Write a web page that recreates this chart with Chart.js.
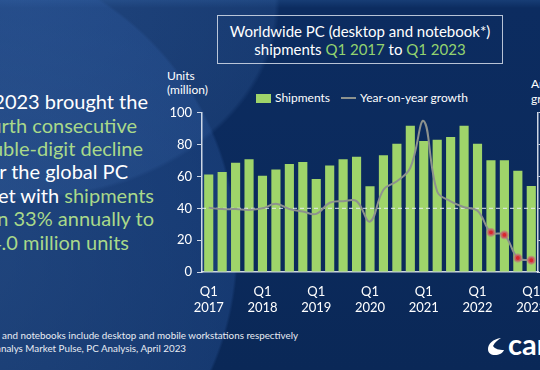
<!DOCTYPE html>
<html>
<head>
<meta charset="utf-8">
<script src="https://cdn.jsdelivr.net/npm/chart.js@4.4.0/dist/chart.umd.min.js"></script>
<style>
  html, body { margin: 0; padding: 0; }
  body {
    width: 540px; height: 370px; overflow: hidden; position: relative;
    font-family: Lato, "Open Sans", sans-serif; color: #fff;
    background: #0b2b5e;
  }
  #bg {
    position: absolute; left: 0; top: 0; width: 540px; height: 370px;
    background:
      radial-gradient(circle at -60px 250px, rgba(60,105,170,0.45) 0, rgba(45,90,160,0.35) 295px, rgba(0,0,0,0) 298px),
      radial-gradient(ellipse 260px 200px at 20px 0px, rgba(70,115,180,0.35) 0, rgba(60,105,170,0.25) 98%, rgba(0,0,0,0) 100%),
      linear-gradient(180deg, #173d75 0, #0c2c60 8px, #0b2a5c 60%, #0a2857 100%);
  }
  .abs { position: absolute; white-space: nowrap; }
  .g { color: #a9d98a; }
  #title {
    left: 217px; top: 15px;
    border: 1px solid rgba(215,222,235,0.85);
    text-align: center; font-size: 15px; line-height: 18px;
    padding-top: 6px; box-sizing: border-box; width: 286px; height: 49px;
  }
  #title .g { color: #93d36f; }
  .lead { font-size: 20px; line-height: 23px; text-align: right; }
  .foot { font-size: 9.8px; color: #e8ecf3; text-align: right; }
  #wrap { position: absolute; left: 150px; top: 100px; width: 430px; height: 212px; }
  .leg { font-size: 12px; top: 90px; }
</style>
</head>
<body>
<div id="bg"></div>

<div id="title" class="abs">Worldwide PC (desktop and notebook*)<br>shipments <span class="g">Q1 2017</span> to <span class="g">Q1 2023</span></div>

<div class="abs lead" style="right:392px; top:90px;">Q1 2023 brought the</div>
<div class="abs lead g" style="right:403px; top:114px;">fourth consecutive</div>
<div class="abs lead g" style="right:397px; top:137px;">double-digit decline</div>
<div class="abs lead" style="right:412px; top:160px;">for the global PC</div>
<div class="abs lead" style="right:386px; top:184px;">market with <span class="g">shipments</span></div>
<div class="abs lead g" style="right:386px; top:207px;">down 33% annually to</div>
<div class="abs lead g" style="right:411px; top:231px;">54.0 million units</div>

<div class="abs" style="left:167px; top:69px; font-size:12px; line-height:14px;">Units<br>(million)</div>
<div class="abs" style="left:531px; top:76px; font-size:12px; line-height:15px;">Annual<br>growth</div>

<div class="abs leg" style="left:256px;"><span id="legBox" style="display:inline-block;width:15px;height:9px;vertical-align:-1px;margin-right:4px;"></span><span id="leg0"></span></div>
<div class="abs leg" style="left:341px;"><span id="legLine" style="display:inline-block;width:15px;height:2px;vertical-align:3px;margin-right:4px;"></span><span id="leg1"></span></div>

<div id="wrap"><canvas id="pc"></canvas></div>

<div class="abs foot" style="right:242px; top:329px;">*Desktops and notebooks include desktop and mobile workstations respectively</div>
<div class="abs foot" style="right:354px; top:342px;">Source: Canalys Market Pulse, PC Analysis, April 2023</div>

<svg class="abs" style="left:487px; top:337px;" width="18" height="19" viewBox="0 0 18 19">
  <path d="M14 1 C6 2 1 7 1 12 C1 16 4 18 8 18 C12 18 16 16 17 13 C12 13 8 12 6 9 C8 5 11 3 14 1 Z" fill="#fff"/>
</svg>
<div class="abs" style="left:508px; top:326px; font-size:29px; font-weight:bold;">canalys</div>

<script>
const quarters = [
  'Q1 2017', 'Q2 2017', 'Q3 2017', 'Q4 2017',
  'Q1 2018', 'Q2 2018', 'Q3 2018', 'Q4 2018',
  'Q1 2019', 'Q2 2019', 'Q3 2019', 'Q4 2019',
  'Q1 2020', 'Q2 2020', 'Q3 2020', 'Q4 2020',
  'Q1 2021', 'Q2 2021', 'Q3 2021', 'Q4 2021',
  'Q1 2022', 'Q2 2022', 'Q3 2022', 'Q4 2022',
  'Q1 2023'
];
// units, million
const shipments = [
  61.3, 62.8, 68.7, 70.8,
  60.5, 64.4, 67.9, 69.1,
  58.4, 66.9, 70.8, 72.4,
  53.9, 73.3, 80.5, 91.8,
  82.3, 83.1, 84.8, 91.8,
  80.5, 70.2, 70.2, 63.6,
  54.0
];
// year-on-year growth, %
const growth = [
  0.3, -0.5, -0.5, -1.0,
  0.0, 2.8, -0.4, -2.0,
  -3.5, 3.5, 4.5, 4.5,
  -8.3, 11.7, 17.0, 25.5,
  54.8, 10.6, 4.4, 0.7,
  -1.5, -15.1, -16.7, -31.2,
  -32.6
];
const unitTicks = [0, 10, 20, 30, 40, 50, 60, 70, 80, 90, 100];
const growthTicks = [-40, -30, -20, -10, 0, 10, 20, 30, 40, 50, 60];
const seriesNames = ['Shipments', 'Year-on-year growth'];

const green = '#9fd46a';
const grey = '#8d928e';
const axisCol = 'rgba(225,232,242,0.9)';
const firstRed = 21; // double-digit declines get a red dot

document.getElementById('legBox').style.background = green;
document.getElementById('legLine').style.background = grey;
document.getElementById('leg0').textContent = seriesNames[0];
document.getElementById('leg1').textContent = seriesNames[1];

// dashed white line at 0% growth
const zeroLine = {
  id: 'zeroLine',
  beforeDatasetDraw(chart, args) {
    if (args.index !== 0) return;
    const { ctx, chartArea } = chart;
    const y = chart.scales.y1.getPixelForValue(0);
    ctx.save();
    ctx.strokeStyle = 'rgba(235,240,248,0.75)';
    ctx.lineWidth = 1.3;
    ctx.setLineDash([4, 3]);
    ctx.beginPath();
    ctx.moveTo(chartArea.left, y);
    ctx.lineTo(chartArea.right, y);
    ctx.stroke();
    ctx.restore();
  }
};

new Chart(document.getElementById('pc'), {
  data: {
    labels: quarters,
    datasets: [
      {
        type: 'line',
        label: seriesNames[1],
        data: growth,
        yAxisID: 'y1',
        order: 0,
        borderColor: grey,
        borderWidth: 2,
        tension: 0.4,
        pointRadius: c => c.dataIndex >= firstRed ? 3.2 : 0,
        pointBackgroundColor: '#d8262c',
        pointBorderColor: 'rgba(190,120,120,0.7)',
        pointBorderWidth: 2.5
      },
      {
        type: 'bar',
        label: seriesNames[0],
        data: shipments,
        yAxisID: 'y',
        order: 1,
        backgroundColor: green,
        categoryPercentage: 1,
        barPercentage: 0.68
      }
    ]
  },
  options: {
    responsive: true,
    maintainAspectRatio: false,
    animation: false,
    layout: { padding: { top: 10, left: 0, right: 0, bottom: 0 } },
    plugins: { legend: { display: false }, tooltip: { enabled: false } },
    scales: {
      x: {
        afterFit: s => { s.height = 40; },
        grid: { display: false },
        border: { color: axisCol, width: 1.5 },
        ticks: {
          autoSkip: false, maxRotation: 0, padding: 4,
          color: '#fff', font: { family: 'Lato', size: 13 },
          callback: function (v, i) {
            const q = quarters[i].split(' ');
            return q[0] === 'Q1' ? [q[0], q[1]] : '';
          }
        }
      },
      y: {
        position: 'left',
        min: 0, max: 100,
        afterFit: s => { s.width = 52; },
        afterBuildTicks: s => { s.ticks = unitTicks.map(v => ({ value: v })); },
        grid: { drawOnChartArea: false, drawTicks: true, tickLength: 5, color: axisCol },
        border: { color: axisCol, width: 1.5 },
        ticks: { color: '#fff', padding: 5, font: { family: 'Lato', size: 13 } }
      },
      y1: {
        position: 'right',
        min: -40, max: 60,
        afterFit: s => { s.width = 42; },
        afterBuildTicks: s => { s.ticks = growthTicks.map(v => ({ value: v })); },
        grid: { drawOnChartArea: false, drawTicks: true, tickLength: 5, color: axisCol },
        border: { color: axisCol, width: 1.5 },
        ticks: { color: '#fff', padding: 4, font: { family: 'Lato', size: 12 }, callback: v => v + '%' }
      }
    }
  },
  plugins: [zeroLine]
});
</script>
</body>
</html>
